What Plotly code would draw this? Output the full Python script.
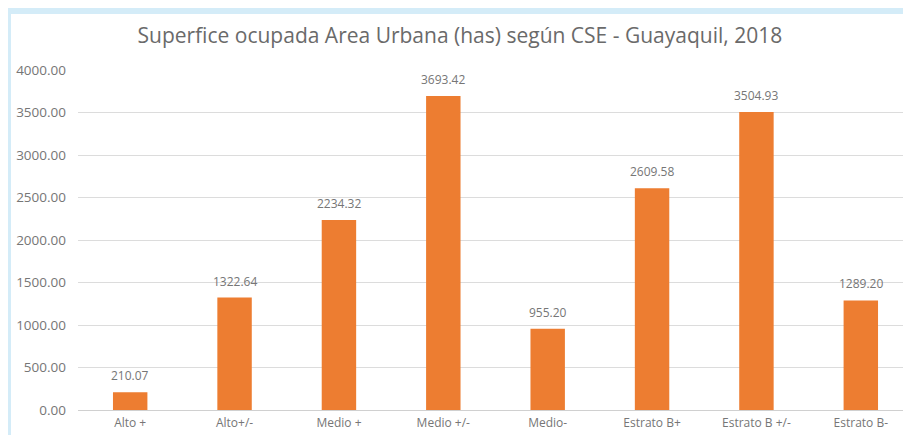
import plotly.graph_objects as go

categories = ["Alto +", "Alto+/-", "Medio +", "Medio +/-", "Medio-", "Estrato B+", "Estrato B +/-", "Estrato B-"]
values = [210.07, 1322.64, 2234.32, 3693.42, 955.20, 2609.58, 3504.93, 1289.20]
y_ticks = [0, 500, 1000, 1500, 2000, 2500, 3000, 3500, 4000]

W, H = 911, 435
ML, MR, MT, MB = 70, 6, 62, 33
PW, PH = W - ML - MR, H - MT - MB
TXT = "#767676"
FONT = "Open Sans"
BLUE = "#d4ecf8"

fig = go.Figure(go.Bar(
    x=categories, y=values,
    marker=dict(color="#ED7D31", line=dict(width=0)),
    hoverinfo="x+y",
))

annotations = [
    dict(x=c, y=v, xref="x", yref="y", text=f"{v:.2f}", showarrow=False,
         yanchor="bottom", yshift=6,
         font=dict(family=FONT, size=12, color=TXT))
    for c, v in zip(categories, values)
]

fig.update_layout(
    width=W, height=H,
    margin=dict(l=ML, r=MR, t=MT, b=MB),
    paper_bgcolor="white",
    plot_bgcolor="white",
    bargap=0.67,
    showlegend=False,
    annotations=annotations,
    title=dict(
        text="Superfice ocupada Area Urbana (has) según CSE - Guayaquil, 2018",
        x=0.496, xref="container", xanchor="center",
        y=1 - 28 / H, yref="container", yanchor="middle",
        font=dict(family=FONT, size=21, color="#6a6a6a"),
    ),
    font=dict(family=FONT, color=TXT),
    shapes=[
        dict(type="rect", xref="paper", yref="paper", layer="above",
             x0=-(ML + 5) / PW, x1=1 + (MR + 5) / PW,
             y0=1 + (MT - 6) / PH, y1=1 + (MT + 5) / PH,
             fillcolor=BLUE, line=dict(width=0)),
        dict(type="rect", xref="paper", yref="paper", layer="above",
             x0=-(ML + 5) / PW, x1=-(ML - 3) / PW,
             y0=-(MB + 5) / PH, y1=1 + (MT + 5) / PH,
             fillcolor=BLUE, line=dict(width=0)),
    ],
)

fig.update_yaxes(
    range=[0, 4000], tickvals=y_ticks, tickformat=".2f",
    showgrid=True, gridcolor="#dcdcdc", gridwidth=1,
    zeroline=False, showline=False,
    tickfont=dict(family=FONT, size=13.5, color=TXT),
    ticks="", ticklabelstandoff=11,
)
fig.update_xaxes(
    showline=True, linecolor="#d0d0d0", linewidth=1,
    tickfont=dict(family=FONT, size=12, color=TXT),
    ticks="", showgrid=False, ticklabelstandoff=2,
)

fig.write_html("out.html")
